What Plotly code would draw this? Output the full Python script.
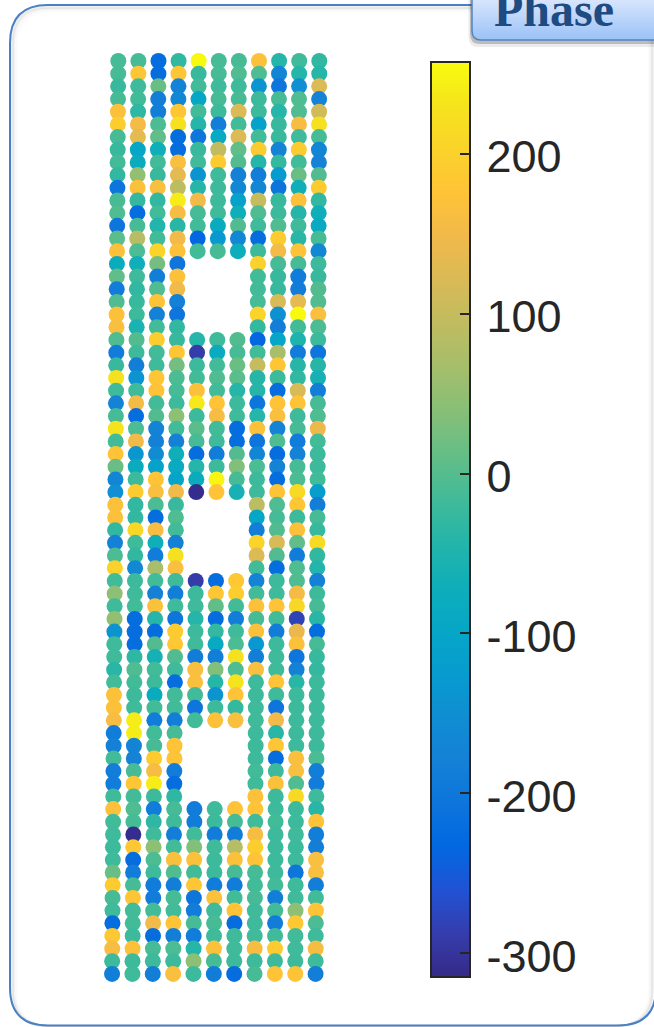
import plotly.graph_objects as go

N = None
W, H = 654, 1027
tick_values = [200, 100, 0, -100, -200, -300]
tick_labels = ["200", "100", "0", "-100", "-200", "-300"]

r00 = [-12,-12,-222,-30,255,-12,-12,170,-42,-18,-30]
r01 = [-12,180,-222,180,-24,-12,-5,-5,-170,-42,-42]
r02 = [-24,-18,16,-175,-15,-18,-18,-140,-205,-150,125]
r03 = [-12,-15,-185,-165,-100,-12,-12,-20,-12,-5,-175]
r04 = [170,-33,-185,180,-15,-20,125,-20,-42,-5,110]
r05 = [195,155,-8,225,-42,-185,-15,-110,-24,160,225]
r06 = [-12,135,10,-222,-205,-90,125,-15,-24,-18,-12]
r07 = [-24,-100,-70,-222,-24,95,10,190,-175,190,-170]
r08 = [-15,-80,-15,165,-18,190,-2,-42,-27,-15,-175]
r09 = [-30,50,-24,135,-140,-18,-180,-185,-125,16,-2]
r10 = [-205,170,165,90,-42,-20,-165,-165,-205,-70,190]
r11 = [-12,-27,-30,240,150,-20,-110,100,-24,170,-30]
r12 = [-5,-222,-15,160,-12,-18,-70,-5,-20,-42,-70]
r13 = [-205,-12,-45,-37,-15,-80,-2,-18,-5,-18,-90]
r14 = [3,85,-15,150,-235,-130,-165,-222,190,-37,-12]
r15 = [170,-8,205,170,-15,-12,-75,-20,155,175,-165]
r16 = [-80,-70,25,-205,N,N,N,200,-12,-12,-20]
r17 = [10,-18,-185,170,N,N,N,-15,-24,-190,-24]
r18 = [-190,-30,-5,150,N,N,N,-15,-24,-190,-2]
r19 = [-5,-24,175,-180,N,N,N,-12,120,135,-2]
r20 = [170,-20,-180,-205,N,N,N,205,-145,255,165]
r21 = [165,-55,-15,-30,N,N,N,-27,-185,-15,-8]
r22 = [-5,-2,195,-24,-42,-18,-2,-235,-100,-50,-20]
r23 = [-190,-20,-15,180,-290,-85,-12,-15,70,-190,-205]
r24 = [-24,-185,-18,25,-20,-15,16,100,180,-40,-40]
r25 = [225,-140,180,-8,-15,-5,3,-40,-20,-30,-60]
r26 = [-18,-18,175,-12,170,-15,-42,-42,-222,120,-185]
r27 = [-175,155,-15,-20,235,175,-20,-205,175,175,-12]
r28 = [-12,-222,-2,45,-20,160,-18,-42,165,-18,-5]
r29 = [230,-8,-175,-15,3,-15,-222,170,-175,-12,145]
r30 = [-15,150,-180,-180,-12,-18,-222,-205,-5,-190,-15]
r31 = [175,-135,-155,-70,-222,-190,-2,-170,-222,-175,-20]
r32 = [16,-80,-110,-85,-42,-20,35,-8,-175,-12,-20]
r33 = [-170,-20,175,-105,-80,250,-12,-20,-222,-8,-15]
r34 = [-150,190,165,150,-310,175,-60,-20,175,215,-120]
r35 = [170,-30,-8,-24,N,N,N,90,-5,180,-185]
r36 = [170,-30,-222,-5,N,N,N,-100,-12,-20,-12]
r37 = [-30,210,160,-15,N,N,N,-185,-2,170,-24]
r38 = [-180,-18,-70,-180,N,N,N,205,120,10,215]
r39 = [-8,-30,-190,225,N,N,N,125,-2,-190,-30]
r40 = [200,-165,70,165,N,N,N,-15,-222,-5,-45]
r41 = [-15,-20,-15,-18,-290,-222,185,-175,-20,-5,-180]
r42 = [45,-18,-180,-185,-20,180,195,-15,-18,155,-20]
r43 = [-18,-15,170,-18,-18,10,-15,170,175,210,-12]
r44 = [50,-222,-42,-205,-42,-222,-185,-12,-15,-280,-37]
r45 = [-140,-222,-222,190,-20,-27,-18,170,-190,140,-222]
r46 = [-18,-222,-2,185,-18,-90,-8,-130,-20,170,-12]
r47 = [-18,-33,-60,-2,-190,-185,225,-185,-18,-205,-24]
r48 = [-37,-5,-15,-18,165,35,-5,165,-18,-180,-27]
r49 = [-15,-15,-20,-222,165,-42,230,-20,175,-37,-20]
r50 = [170,-20,-80,-15,-15,-140,175,-20,-18,-20,-20]
r51 = [170,-18,-15,-15,-205,-20,-27,-18,-205,-20,-20]
r52 = [160,240,-190,-185,-15,170,165,-18,150,-20,-20]
r53 = [-190,240,-15,-12,N,N,N,-20,-37,-20,-20]
r54 = [-180,-175,-12,175,N,N,N,-20,180,-20,-20]
r55 = [-15,-175,190,175,N,N,N,-20,-222,165,-8]
r56 = [-185,-12,160,-190,N,N,N,-15,-20,165,-185]
r57 = [-190,180,240,-222,N,N,N,-18,170,-5,-190]
r58 = [-18,-15,-20,-33,N,N,N,170,-20,215,-18]
r59 = [170,-5,-190,-12,-190,-18,175,175,-20,-20,-37]
r60 = [-15,-12,-33,-18,-190,-20,-12,-18,-15,-20,175]
r61 = [-18,-310,-18,-185,-15,-190,-190,160,-20,-18,-185]
r62 = [-20,185,45,-15,35,-18,85,195,-20,-20,-185]
r63 = [-18,-222,-8,165,170,-20,170,175,-20,-20,165]
r64 = [16,-190,-18,-5,-15,-20,-12,-12,-20,-205,165]
r65 = [190,-12,-190,-185,180,-190,-190,-15,-15,-18,-185]
r66 = [-12,180,-190,-12,-205,170,-15,-12,-185,-18,-15]
r67 = [-18,-15,-15,-15,-190,-18,175,-18,-15,45,175]
r68 = [-222,-15,150,175,-12,-12,-222,-18,-190,185,-8]
r69 = [185,-20,-222,-185,-190,-18,-18,-18,-18,-15,-18]
r70 = [160,170,-12,-8,-42,170,-18,160,190,-18,160]
r71 = [-20,-20,-20,-20,45,-12,-20,-20,-20,-20,-18]
r72 = [-185,-18,-185,165,-20,-190,-222,-12,175,175,-185]

rows = [r00,r01,r02,r03,r04,r05,r06,r07,r08,r09,r10,r11,r12,r13,r14,r15,r16,r17,r18,
        r19,r20,r21,r22,r23,r24,r25,r26,r27,r28,r29,r30,r31,r32,r33,r34,r35,r36,r37,
        r38,r39,r40,r41,r42,r43,r44,r45,r46,r47,r48,r49,r50,r51,r52,r53,r54,r55,r56,
        r57,r58,r59,r60,r61,r62,r63,r64,r65,r66,r67,r68,r69,r70,r71,r72]

# MATLAB parula, every third step of the 64-colour table
parula = [(0.2081,0.1663,0.5292),(0.2081,0.2386,0.6771),(0.1253,0.3242,0.8303),(0.0060,0.4086,0.8828),
          (0.0498,0.4586,0.8641),(0.0779,0.5040,0.8384),(0.0641,0.5570,0.8240),(0.0265,0.6137,0.8135),
          (0.0228,0.6535,0.7768),(0.0590,0.6838,0.7254),(0.1453,0.7098,0.6646),(0.2586,0.7317,0.5954),
          (0.3953,0.7459,0.5244),(0.5300,0.7491,0.4661),(0.6473,0.7456,0.4188),(0.7525,0.7384,0.3768),
          (0.8507,0.7299,0.3360),(0.9450,0.7261,0.2886),(0.9990,0.7653,0.2164),(0.9789,0.8271,0.1633),
          (0.9589,0.8949,0.1132),(0.9763,0.9831,0.0538)]
scale = [[i / (len(parula) - 1), "rgb(%d,%d,%d)" % tuple(round(v * 255) for v in c)]
         for i, c in enumerate(parula)]

xs, ys, vals = [], [], []
for r, row in enumerate(rows):
    for c, v in enumerate(row):
        if v is None:
            continue
        xs.append(c * (1 + 0.0125 * r / 72) - 0.31 * r / 72)
        ys.append(r)
        vals.append(v)

fig = go.Figure(go.Scatter(
    x=xs, y=ys, mode="markers", hoverinfo="skip",
    marker=dict(size=16, color=vals, cmin=-314.5, cmax=257.6, colorscale=scale, line=dict(width=0),
                colorbar=dict(
                    xref="container", yref="container", x=431/W, y=(H-976.5)/H,
                    xanchor="left", yanchor="bottom", xpad=0, ypad=0,
                    lenmode="pixels", len=914.5, thicknessmode="pixels", thickness=39,
                    outlinewidth=2, outlinecolor="#262626", borderwidth=0,
                    tickmode="array", tickvals=tick_values, ticktext=tick_labels,
                    ticks="inside", ticklen=11, tickwidth=1.5, tickcolor="#262626",
                    tickfont=dict(family="Liberation Sans", size=45, color="#262626"),
                )),
))

def px(x): return x / W
def py(y): return 1 - y / H

def rounded(x0, y0, x1, y1, r):
    return (f"M{px(x0+r)},{py(y0)} L{px(x1-r)},{py(y0)} "
            f"Q{px(x1)},{py(y0)} {px(x1)},{py(y0+r)} L{px(x1)},{py(y1-r)} "
            f"Q{px(x1)},{py(y1)} {px(x1-r)},{py(y1)} L{px(x0+r)},{py(y1)} "
            f"Q{px(x0)},{py(y1)} {px(x0)},{py(y1-r)} L{px(x0)},{py(y0+r)} "
            f"Q{px(x0)},{py(y0)} {px(x0+r)},{py(y0)} Z")

shapes = []
for off, col in [(6, "rgba(0,0,0,0.015)"), (4, "rgba(0,0,0,0.04)"), (2.5, "rgba(0,0,0,0.08)")]:
    shapes.append(dict(type="path", xref="paper", yref="paper", layer="below",
                       path=rounded(10 + off, 5 + off, 654 - off + 1, 1026, 36),
                       line=dict(color=col, width=2.5)))
shapes.append(dict(type="path", xref="paper", yref="paper", layer="below",
                   path=rounded(10, 5, 656, 1025.5, 38), line=dict(color="#4a80c4", width=2)))

# tab shadow, gradient body and border
for off, col in [(7, "rgba(0,0,0,0.08)"), (4, "rgba(0,0,0,0.2)")]:
    shapes.append(dict(type="path", xref="paper", yref="paper", layer="below",
                       path=rounded(472 - off / 2, -20, 670, 40 + off, 10), fillcolor=col, line=dict(width=0)))
top, bottom = (214, 229, 253), (155, 194, 247)
steps = 40
for i in range(steps):
    f = i / (steps - 1)
    c = tuple(round(a + (b - a) * f) for a, b in zip(top, bottom))
    inset = 0 if i < 32 else (i - 31) ** 2 / 8
    shapes.append(dict(type="rect", xref="paper", yref="paper", layer="below",
                       x0=px(472 + inset), x1=1, y0=py(i), y1=py(i + 1),
                       fillcolor=f"rgb{c}", line=dict(width=0)))
shapes.append(dict(type="path", xref="paper", yref="paper", layer="below",
                   path=rounded(472, -20, 670, 40, 9), line=dict(color="#4f84c4", width=1.5)))

fig.update_layout(
    width=W, height=H, margin=dict(l=0, r=0, t=0, b=0, autoexpand=False), showlegend=False,
    paper_bgcolor="white", plot_bgcolor="rgba(0,0,0,0)",
    xaxis=dict(domain=[100/W, 340/W], range=[(100-118.3)/20.1, (340-118.3)/20.1], visible=False),
    yaxis=dict(domain=[1-990/H, 1-45/H], range=[(990-61)/12.68, (45-61)/12.68], visible=False),
    shapes=shapes,
    annotations=[dict(xref="paper", yref="paper", x=px(554), y=py(27), xanchor="center", yanchor="bottom", yshift=-11,
                      showarrow=False, text="<b>Phase</b>",
                      font=dict(family="Liberation Serif", size=48, color="#1d4b82"))],
)

post = """
document.body.style.margin='0';
document.documentElement.style.overflow='hidden';
document.querySelectorAll('.colorbar .cbaxis text, .colorbar .ytick text').forEach(function(t){
  if(t.dataset.moved) return; t.dataset.moved='1';
  t.setAttribute('x', parseFloat(t.getAttribute('x')||0)+6);
  t.setAttribute('y', parseFloat(t.getAttribute('y')||0)+3);
});
"""
fig.write_html("out.html", config=dict(displayModeBar=False), post_script=post)
